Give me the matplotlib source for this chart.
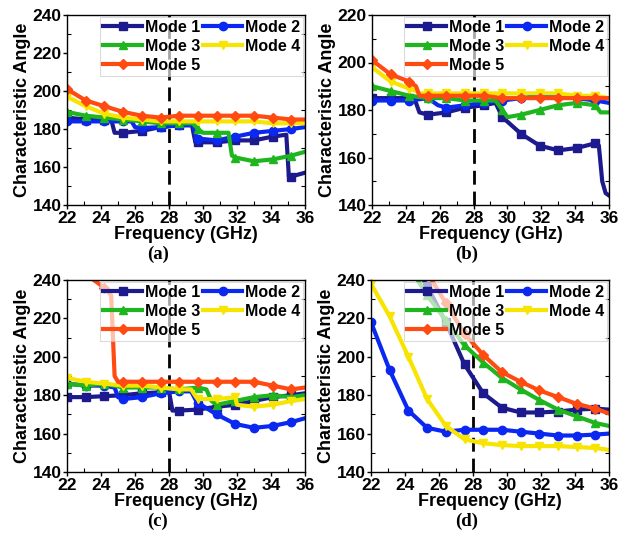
import matplotlib
matplotlib.use("Agg")
import matplotlib.pyplot as plt
from matplotlib.ticker import MultipleLocator
import numpy as np

plt.rcParams['font.family'] = ['Liberation Sans', 'DejaVu Sans']
plt.rcParams['font.weight'] = 'bold'

modes = ["Mode 1", "Mode 2", "Mode 3", "Mode 4", "Mode 5"]
colors = ["#1c1a8c", "#0a28f0", "#1fb51f", "#f7e400", "#ff4a12"]
markers = ["s", "o", "^", "v", "D"]
grid = [22, 23.1, 24.2, 25.3, 26.4, 27.5, 28.6, 29.7, 30.8, 31.9, 33, 34.1, 35.2, 36]

# ---------- panel (a) ----------
a1_x = [22, 23.1, 24.2, 24.6, 24.8, 25.3, 26.4, 27.5, 28.6, 29.35, 29.55, 29.7, 30.8, 31.9, 33, 34.1, 34.9, 35.05, 35.2, 36]
a1_y = [186, 185, 185, 185, 178, 178, 179, 181, 182, 182, 173, 173, 173, 174, 174, 176, 177, 155, 155, 157]
a2_x = [22, 23.1, 24.2, 25.3, 25.8, 26.0, 26.4, 27.5, 28.6, 29.4, 29.6, 29.7, 30.8, 31.9, 33, 34.1, 35.2, 36]
a2_y = [184, 184, 184, 184, 184, 181, 180.5, 181, 182, 182, 176, 175, 174, 176, 178, 179, 180, 181]
a3_x = [22, 23.1, 24.2, 25.3, 26.4, 27.5, 28.6, 29.4, 29.7, 30.0, 30.8, 31.5, 31.7, 31.9, 33, 34.1, 35.2, 36]
a3_y = [189, 187, 186, 185, 184, 183, 183, 183, 180, 178, 178, 178, 166, 165, 163, 164, 166, 168]
a4_x = grid
a4_y = [197, 192, 188, 186, 185, 184, 184, 184, 184, 184, 184, 183, 183, 183]
a5_x = grid
a5_y = [201, 195, 192, 189, 187, 186, 187, 187, 187, 187, 187, 186, 185, 185]

# ---------- panel (b) ----------
b1_x = [22, 23.1, 24.2, 24.5, 24.8, 25.3, 26.4, 27.5, 28.6, 29.3, 29.7, 30.8, 31.9, 33, 34.1, 35.2, 35.4, 35.6, 35.8, 36]
b1_y = [185, 185, 185, 185, 179, 178, 179, 181, 182, 183, 177, 170, 165, 163, 164, 166, 165, 150, 145, 144]
b2_x = [22, 23.1, 24.2, 25.3, 25.9, 26.4, 27.5, 28.6, 29.7, 30.8, 31.9, 33, 34.1, 35.2, 36]
b2_y = [184, 184, 184, 185, 182, 181, 182, 183, 184, 185, 186, 186, 185, 184, 183]
b3_x = [22, 23.1, 24.2, 25.3, 26.4, 27.5, 28.6, 29.3, 29.7, 30.0, 30.8, 31.9, 33, 34.1, 35.2, 35.5, 36]
b3_y = [190, 188, 186, 185, 185, 184, 184, 184, 180, 177, 178, 180, 182, 183, 182, 179, 179]
b4_x = [22, 23.1, 24.2, 24.6, 24.8, 25.3, 26.4, 27.5, 28.6, 29.7, 30.8, 31.9, 33, 34.1, 35.2, 36]
b4_y = [198, 192, 189, 188, 187, 187, 187, 187, 187, 187, 187, 187, 187, 186, 186, 185]
b5_x = [22, 23.1, 24.2, 24.6, 24.8, 25.3, 26.4, 27.5, 28.6, 29.7, 30.8, 31.9, 33, 34.1, 35.2, 36]
b5_y = [201, 195, 192, 190, 186, 186, 186, 186, 186, 185, 185, 185, 185, 185, 185, 185]

# ---------- panel (c) ----------
c1_x = [22, 23.1, 24.2, 25.3, 26.4, 27.5, 28.0, 28.2, 28.6, 29.7, 30.8, 31.9, 33, 34.1, 35.2, 36]
c1_y = [179, 179, 179.5, 180, 181, 181.5, 182, 172, 172, 172.5, 174, 175, 177, 179, 180, 181]
c2_x = [22, 23.1, 24.2, 24.8, 25.0, 25.3, 26.4, 27.5, 28.6, 29.3, 29.6, 29.7, 30.8, 31.9, 33, 34.1, 35.2, 36]
c2_y = [186, 185, 185, 184, 179, 178, 179, 181, 182, 182, 177, 176, 170, 165, 163, 164, 166, 168]
c3_x = [22, 23.1, 24.2, 25.3, 26.4, 27.5, 28.6, 29.7, 30.2, 30.5, 30.8, 31.9, 33, 34.1, 35.2, 36]
c3_y = [186, 185, 186, 184, 184, 184, 183, 184, 183, 177, 175, 177, 179, 180, 179, 180]
c4_x = [22, 23.1, 24.2, 25.3, 26.4, 27.5, 28.6, 29.3, 29.6, 29.7, 30.8, 31.9, 32.0, 33, 34.1, 35.2, 36]
c4_y = [189, 187, 186, 185, 185, 184, 183, 183, 179, 178, 178, 179, 175, 174, 175, 177, 178]
c5_x = [22, 23.1, 24.2, 24.6, 24.8, 25.0, 25.3, 26.4, 27.5, 28.6, 29.7, 30.8, 31.9, 33, 34.1, 35.2, 36]
c5_y = [250, 243, 236, 232, 190, 187, 187, 187, 187, 187, 187, 187, 187, 187, 185, 183, 184]

# ---------- panel (d) ----------
d1_x = grid[2:]
d1_y = [252, 237, 218, 196, 181, 173.5, 171, 171, 171.5, 172.5, 173, 172.5]
d2_x = grid
d2_y = [218, 193, 172, 163, 161, 162, 162, 162, 161, 160, 159, 159, 159.5, 160]
d3_x = grid[2:]
d3_y = [248, 232, 219, 206, 197, 189, 183, 177.5, 172.5, 169, 165.5, 164]
d4_x = grid
d4_y = [238, 221, 200, 178, 164, 157, 155, 154, 153.5, 153.5, 153.5, 153, 152.5, 151.5]
d5_x = grid[3:]
d5_y = [244, 228, 212, 201, 192, 187, 182.5, 179, 175.5, 173, 170.5]

panels = [
    ("(a)", [(a1_x, a1_y), (a2_x, a2_y), (a3_x, a3_y), (a4_x, a4_y), (a5_x, a5_y)], (140, 240), 20),
    ("(b)", [(b1_x, b1_y), (b2_x, b2_y), (b3_x, b3_y), (b4_x, b4_y), (b5_x, b5_y)], (140, 220), 20),
    ("(c)", [(c1_x, c1_y), (c2_x, c2_y), (c3_x, c3_y), (c4_x, c4_y), (c5_x, c5_y)], (140, 240), 20),
    ("(d)", [(d1_x, d1_y), (d2_x, d2_y), (d3_x, d3_y), (d4_x, d4_y), (d5_x, d5_y)], (140, 240), 20),
]

W, H = 619, 540
fig = plt.figure(figsize=(W / 100, H / 100), dpi=100)
boxes = [(67, 15, 305, 205), (372, 15, 609, 205), (67, 280, 305, 472), (371, 280, 609, 472)]
label_pos = [(158, 254), (467, 254), (158, 521), (467, 521)]

for (lab, series, ylim, ystep), (l, t, r, b), (lx, ly) in zip(panels, boxes, label_pos):
    ax = fig.add_axes([l / W, 1 - b / H, (r - l) / W, (b - t) / H])
    handles = []
    for (xs, ys), c, m, name in zip(series, colors, markers, modes):
        idx = [i for i, x in enumerate(xs) if x in grid[:-1]]
        ms = 6 if m != "D" else 5.5
        h, = ax.plot(xs, ys, color=c, lw=3, marker=m, ms=ms, markevery=idx,
                     label=name, solid_joinstyle='round', clip_on=True)
        handles.append(h)
    ax.axvline(28, color='black', lw=2, ls=(0, (5, 2.5)), zorder=1)
    ax.set_xlim(22, 36)
    ax.set_ylim(*ylim)
    ax.xaxis.set_major_locator(MultipleLocator(2))
    ax.xaxis.set_minor_locator(MultipleLocator(1))
    ax.yaxis.set_major_locator(MultipleLocator(ystep))
    ax.yaxis.set_minor_locator(MultipleLocator(ystep / 2))
    ax.tick_params(which='major', direction='out', length=3, width=1, labelsize=12.5, pad=1)
    ax.tick_params(which='minor', direction='in', length=3, width=0.8, right=True, top=False)
    for lbl in ax.get_xticklabels() + ax.get_yticklabels():
        lbl.set_fontweight('bold')
    for s in ax.spines.values():
        s.set_linewidth(1)
    ax.set_xlabel("Frequency (GHz)", fontsize=13, fontweight='bold', labelpad=0)
    ax.set_ylabel("Characteristic Angle", fontsize=13, fontweight='bold', labelpad=1)
    order = [0, 2, 4, 1, 3]
    leg = ax.legend([handles[i] for i in order], [modes[i] for i in order],
                    ncol=2, loc='upper right', handlelength=2.4,
                    handletextpad=0.2, columnspacing=0.2, labelspacing=0.25,
                    borderaxespad=0.1, borderpad=0.2, fancybox=False,
                    framealpha=0.65, edgecolor='#c8c8c8',
                    prop={'weight': 'bold', 'size': 11.5})
    leg.get_frame().set_linewidth(0.8)
    fig.text(lx / W, 1 - ly / H, lab, ha='center', va='center', fontsize=13.5,
             fontweight='bold', family=['Liberation Serif', 'DejaVu Serif'])

fig.savefig("out.png", dpi=100)
